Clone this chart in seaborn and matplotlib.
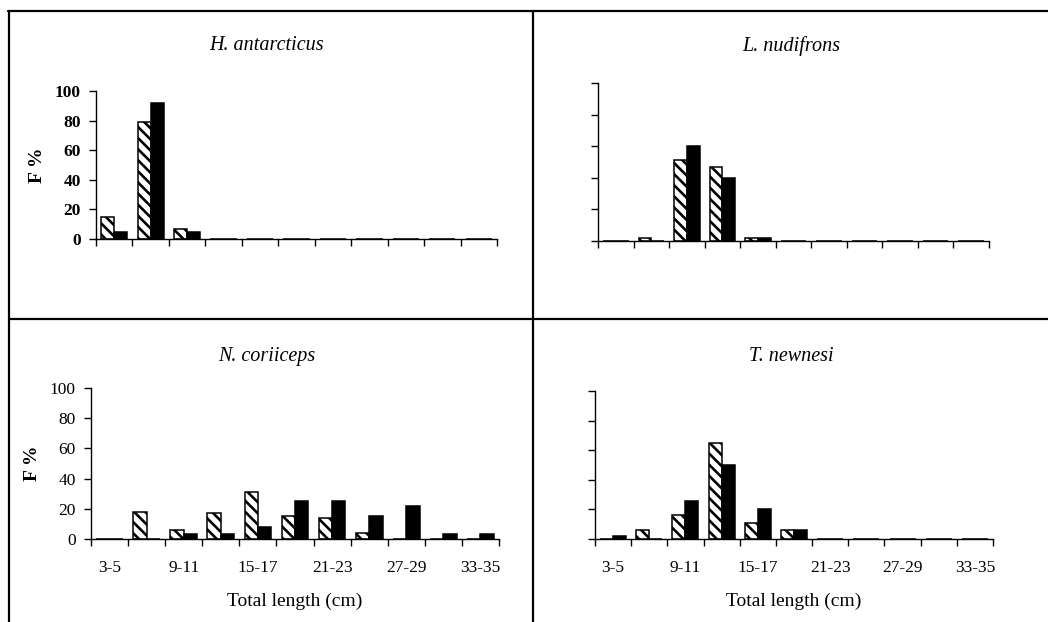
""" Length-frequency distributions of four fish species """
import numpy as np
import pandas as pd
import matplotlib
matplotlib.use('Agg')
import matplotlib.pyplot as plt
from matplotlib.lines import Line2D
import seaborn as sns


"""  data read off the figure  """
classes = ['3-5', '6-8', '9-11', '12-14', '15-17', '18-20',
           '21-23', '24-26', '27-29', '30-32', '33-35']
series = ['hatched', 'solid']

h_antarcticus_a = [15, 79, 7, 0, 0, 0, 0, 0, 0, 0, 0]
h_antarcticus_b = [5, 92, 5, 0, 0, 0, 0, 0, 0, 0, 0]

l_nudifrons_a = [0, 2, 51, 47, 2, 0, 0, 0, 0, 0, 0]
l_nudifrons_b = [0, 0, 60, 40, 2, 0, 0, 0, 0, 0, 0]

n_coriiceps_a = [0, 18, 6, 17, 31, 15, 14, 4, 0, 0, 0]
n_coriiceps_b = [0, 0, 3, 3, 8, 25, 25, 15, 22, 3, 3]

t_newnesi_a = [0, 6, 16, 65, 11, 6, 0, 0, 0, 0, 0]
t_newnesi_b = [2, 0, 26, 50, 20, 6, 0, 0, 0, 0, 0]

titles = ['H. antarcticus', 'L. nudifrons', 'N. coriiceps', 'T. newnesi']
y_ticks = [0, 20, 40, 60, 80, 100]
label_every = classes[::2]          ### only every other class gets a label


"""  figure setup  """
sns.set_style('ticks')
plt.rcParams['font.family'] = ['Liberation Serif', 'DejaVu Serif']
plt.rcParams['hatch.linewidth'] = 1.9
plt.rcParams['hatch.color'] = 'black'
for k in ['text.color', 'axes.labelcolor', 'xtick.color', 'ytick.color']:
    plt.rcParams[k] = 'black'

W, H = 1048, 622
fig = plt.figure(figsize=(W / 100, H / 100), dpi=100)


def box(left, right, y0, y100):
    """ axes rectangle from pixel coords """
    return [left / W, 1 - y0 / H, (right - left) / W, (y0 - y100) / H]


panels = [
    (h_antarcticus_a, h_antarcticus_b, box(96, 497, 239, 91), True, False, True),
    (l_nudifrons_a, l_nudifrons_b, box(598, 989, 241, 83), False, False, False),
    (n_coriiceps_a, n_coriiceps_b, box(91, 499, 539, 388), True, True, False),
    (t_newnesi_a, t_newnesi_b, box(595, 993, 539, 391), False, True, False),
]
title_pos = [(267, 46), (791, 46), (267, 356), (791, 356)]

for i, (a, b, rect, ylab, xlab, bold) in enumerate(panels):
    ax = fig.add_axes(rect)
    df = pd.DataFrame({
        'class': classes * 2,
        'series': [series[0]] * len(classes) + [series[1]] * len(classes),
        'value': a + b,
    })
    sns.barplot(data=df, x='class', y='value', hue='series', order=classes,
                hue_order=series, palette={'hatched': 'white', 'solid': 'black'},
                saturation=1, width=0.72, edgecolor='black', linewidth=1.1,
                legend=False, ax=ax)
    for p in ax.containers[0]:
        p.set_hatch('\\\\\\')

    ax.set_xlim(-0.5, len(classes) - 0.5)
    ax.set_ylim(0, 100)
    sns.despine(ax=ax)
    for s in ['left', 'bottom']:
        ax.spines[s].set_linewidth(1.0)
        ax.spines[s].set_color('black')

    # ticks on class boundaries, labels on class centres
    ax.set_xticks(np.arange(len(classes) + 1) - 0.5)
    ax.set_xticklabels([])
    ax.tick_params(axis='x', which='major', direction='out', length=5, width=1, color='black')
    ax.set_xticks(np.arange(0, len(classes), 2), minor=True)
    if xlab:
        ax.set_xticklabels(label_every, minor=True, fontsize=12.5)
        ax.set_xlabel('Total length (cm)', fontsize=14, labelpad=12)
    else:
        ax.set_xticklabels([], minor=True)
        ax.set_xlabel('')
    ax.tick_params(axis='x', which='minor', length=0, pad=15)

    ax.set_yticks(y_ticks)
    ax.tick_params(axis='y', direction='out', length=5, width=1, color='black', pad=6)
    if ylab:
        ax.set_yticklabels([str(t) for t in y_ticks], fontsize=12.5,
                           fontweight='bold' if bold else 'normal')
        ax.set_ylabel('F %', fontsize=14, fontweight='bold', labelpad=6)
    else:
        ax.set_yticklabels([])
        ax.set_ylabel('')

    tx, ty = title_pos[i]
    fig.text(tx / W, 1 - ty / H, titles[i], ha='center', va='center',
             fontsize=14.5, fontstyle='italic')


"""  panel frame lines  """
lw = 1.6
fig.add_artist(Line2D([8 / W, 1], [1 - 11 / H] * 2, color='black', lw=lw))
fig.add_artist(Line2D([9 / W] * 2, [1 - 11 / H, 0], color='black', lw=lw))
fig.add_artist(Line2D([9 / W, 1], [1 - 319 / H] * 2, color='black', lw=lw))
fig.add_artist(Line2D([533 / W] * 2, [1 - 11 / H, 0], color='black', lw=lw))

fig.savefig('out.png', dpi=100, facecolor='white')
